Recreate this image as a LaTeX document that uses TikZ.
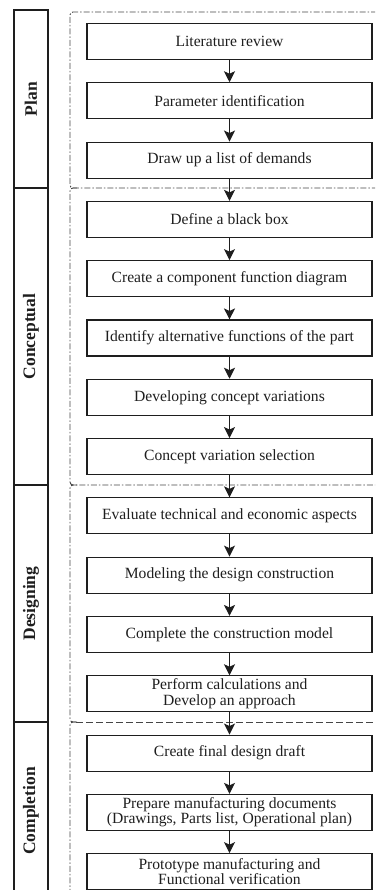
\documentclass[tikz,border=0pt]{standalone}
\usepackage{fontspec}
\setmainfont{Liberation Serif}
\usetikzlibrary{positioning,arrows.meta}
\definecolor{frame_grey}{RGB}{70,70,70}
\definecolor{ink}{RGB}{30,30,30}
\tikzset{
  stepbox/.style={draw=ink, text=ink, line width=1.1pt, minimum width=285pt, minimum height=36pt, inner sep=1pt, align=center, font=\fontsize{15.6}{15.5}\selectfont},
  flow/.style={ink, line width=1.2pt, -{Stealth[length=11pt,width=11pt,inset=2.5pt]}},
  phase/.style={draw=ink, text=ink, line width=1.1pt, rotate=90, minimum height=34pt, font=\fontsize{17.5}{17.5}\selectfont\bfseries},
  stageframe/.style={frame_grey, line width=0.9pt, dash pattern=on 6pt off 2pt on 1.5pt off 2pt, rounded corners=3pt}
}

\begin{document}
\begin{tikzpicture}[x=1pt, y=1pt, node distance=22.2pt]
\useasboundingbox (0,0) rectangle (375,-890);
\clip (0,0) rectangle (375,-890);

% phase column
\node[phase, minimum width=178pt] (plan) at (31,-99) {Plan};
\node[phase, minimum width=297pt] (concept) at (31,-336.5) {Conceptual};
\node[phase, minimum width=237pt] (design) at (31,-603.5) {Designing};
\node[phase, minimum width=178pt] (complete) at (31,-811) {Completion};

% dash-dot frames
\draw[stageframe] (400,-12) -- (70,-12) -- (70,-188) -- (400,-188);
\draw[stageframe] (77,-188) -- (70,-188) -- (70,-485) -- (400,-485);
\draw[stageframe] (77,-485) -- (70,-485) -- (70,-722) -- (76,-722);
\draw[stageframe, dash pattern=on 7pt off 3pt] (76,-722) -- (400,-722);
\draw[stageframe] (77,-722) -- (70,-722) -- (70,-910);

% steps
\node[stepbox] (litreview) at (229.5,-41.5) {Literature review};
\node[stepbox, below=of litreview] (params) {Parameter identification};
\node[stepbox, below=of params] (demands) {Draw up a list of demands};
\node[stepbox, below=of demands] (blackbox) {Define a black box};
\node[stepbox, below=of blackbox] (funcdiag) {Create a component function diagram};
\node[stepbox, below=of funcdiag] (altfunc) {Identify alternative functions of the part};
\node[stepbox, below=of altfunc] (variations) {Developing concept variations};
\node[stepbox, below=of variations] (selection) {Concept variation selection};
\node[stepbox, below=of selection] (evaluate) {Evaluate technical and economic aspects};
\node[stepbox, below=of evaluate] (modeling) {Modeling the design construction};
\node[stepbox, below=of modeling] (model) {Complete the construction model};
\node[stepbox, below=of model] (calc) {Perform calculations and\\Develop an approach};
\node[stepbox, below=of calc] (draft) {Create final design draft};
\node[stepbox, below=of draft] (docs) {Prepare manufacturing documents\\(Drawings, Parts list, Operational plan)};
\node[stepbox, below=of docs] (proto) {Prototype manufacturing and\\Functional verification};

\draw[flow] (litreview) -- (params);
\draw[flow] (params) -- (demands);
\draw[flow] (demands) -- (blackbox);
\draw[flow] (blackbox) -- (funcdiag);
\draw[flow] (funcdiag) -- (altfunc);
\draw[flow] (altfunc) -- (variations);
\draw[flow] (variations) -- (selection);
\draw[flow] (selection) -- (evaluate);
\draw[flow] (evaluate) -- (modeling);
\draw[flow] (modeling) -- (model);
\draw[flow] (model) -- (calc);
\draw[flow] (calc) -- (draft);
\draw[flow] (draft) -- (docs);
\draw[flow] (docs) -- (proto);
\end{tikzpicture}
\end{document}
